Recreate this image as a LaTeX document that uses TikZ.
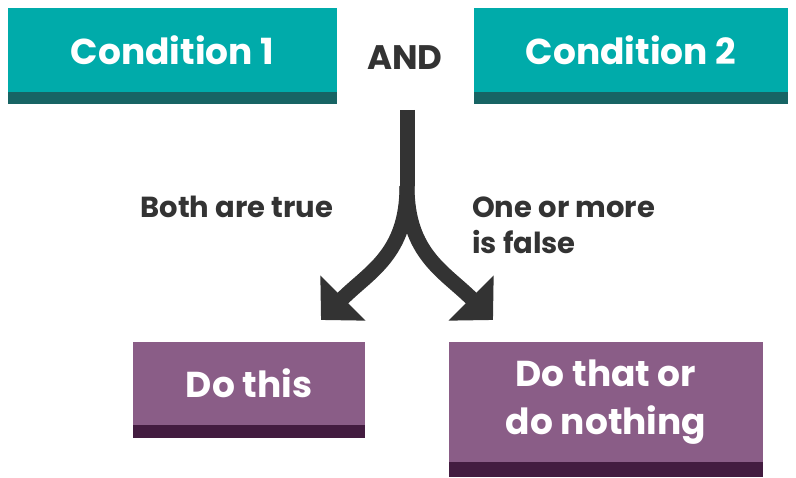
\documentclass[tikz,border=0pt]{standalone}
\usepackage{fontspec}
\setmainfont{Poppins}
\usetikzlibrary{arrows.meta}
\definecolor{condteal}{RGB}{0,171,170}
\definecolor{condband}{RGB}{23,100,100}
\definecolor{actpurple}{RGB}{138,93,135}
\definecolor{actband}{RGB}{67,28,64}
\definecolor{ink}{RGB}{51,51,51}
\tikzset{
  cond/.style = {fill=condteal, text=white, inner sep=0pt,
                 font=\fontsize{36}{40}\selectfont\bfseries},
  act/.style  = {fill=actpurple, text=white, inner sep=0pt, align=center,
                 font=\fontsize{36}{48}\selectfont\bfseries},
  lbl/.style  = {text=ink, inner sep=0pt, align=left,
                 font=\fontsize{29}{36}\selectfont\bfseries},
  branch/.style = {draw=ink, line width=15pt,
                   -{Triangle[length=31pt,width=62pt]}}
}
\begin{document}
\begin{tikzpicture}[x=1pt, y=1pt]
  \useasboundingbox (0,0) rectangle (796,478);
  % conditions
  \node[cond, minimum width=329pt, minimum height=84pt] (c1) at (172.5,428) {Condition 1};
  \node[cond, minimum width=314pt, minimum height=84pt] (c2) at (631,428) {Condition 2};
  \fill[condband] (c1.south west) rectangle ++(329,-12);
  \fill[condband] (c2.south west) rectangle ++(314,-12);
  \node[text=ink, font=\fontsize{34}{38}\selectfont\bfseries] (and) at (405,420) {AND};
  % actions
  \node[act, minimum width=232pt, minimum height=83pt] (a1) at (249,94.5) {Do this};
  \node[act, minimum width=314pt, minimum height=120pt] (a2) at (606,76) {Do that or\\do nothing};
  \fill[actband] (a1.south west) rectangle ++(232,-13);
  \fill[actband] (a2.south west) rectangle ++(314,-15);
  % arrows
  \coordinate (top) at (407,368);
  \coordinate (split) at (407,292);
  \coordinate (tipl) at (321,158);
  \coordinate (tipr) at (493,158);
  \draw[draw=ink, line width=15pt] (top) -- (split);
  \draw[branch] (split) to[out=-90, in=45, looseness=1.1] (tipl);
  \draw[branch] (split) to[out=-90, in=135, looseness=1.1] (tipr);
  \node[lbl] (yes) at (237,271) {Both are true};
  \node[lbl, anchor=west] (no) at (472,253) {One or more\\is false};
\end{tikzpicture}
\end{document}
